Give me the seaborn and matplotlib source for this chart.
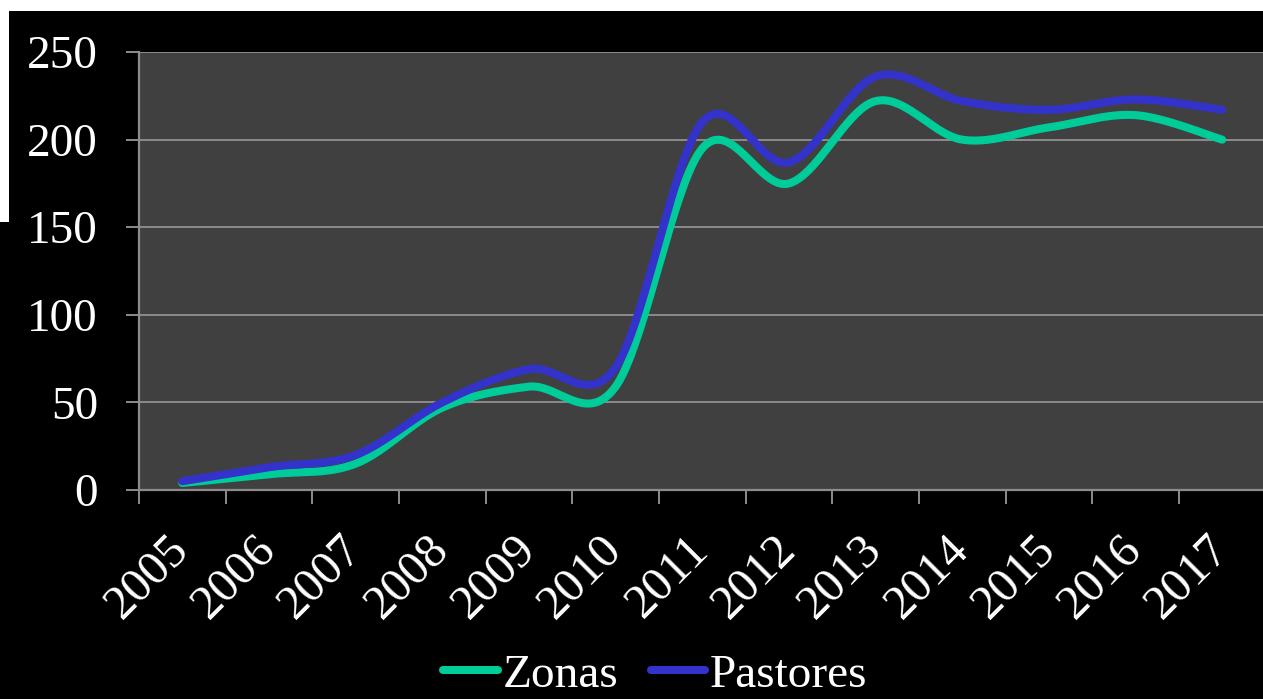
import numpy as np
import pandas as pd
import seaborn as sns
import matplotlib.pyplot as plt
from matplotlib.patches import Rectangle

years = ['2005', '2006', '2007', '2008', '2009', '2010', '2011',
         '2012', '2013', '2014', '2015', '2016', '2017']
zonas = [4, 9, 15, 47, 59, 59, 195, 175, 222, 200, 207, 214, 200]
pastores = [5, 13, 20, 50, 69, 70, 210, 187, 236, 222, 217, 223, 217]

color_dict = {'Zonas': '#00CC99', 'Pastores': '#3333CC'}


def smooth(values, steps=40):
    # bezier smoothing, same idea as the spreadsheet "smoothed line" option
    p = np.asarray(values, dtype=float)
    pts = np.column_stack([np.arange(len(p), dtype=float), p])
    ext = np.vstack([pts[0], pts, pts[-1]])
    t = np.linspace(0, 1, steps)[:, None]
    out = []
    for i in range(len(pts) - 1):
        p0, p3 = ext[i + 1], ext[i + 2]
        c1 = p0 + (ext[i + 2] - ext[i]) / 6
        c2 = p3 - (ext[i + 3] - ext[i + 1]) / 6
        seg = (1 - t) ** 3 * p0 + 3 * (1 - t) ** 2 * t * c1 + 3 * (1 - t) * t ** 2 * c2 + t ** 3 * p3
        out.append(seg if i == 0 else seg[1:])
    return np.vstack(out)


rows = []
for name, vals in [('Zonas', zonas), ('Pastores', pastores)]:
    for x, y in smooth(vals):
        rows.append({'x': x, 'value': y, 'serie': name})
df = pd.DataFrame(rows)

sns.set_theme(style='dark')
plt.rcParams['font.family'] = ['Liberation Serif', 'DejaVu Serif']

fig = plt.figure(figsize=(12.63, 6.99), dpi=100, facecolor='black')
ax = fig.add_axes([0.110, 0.299, 0.892, 0.6265])
ax.set_facecolor('#404040')

sns.lineplot(data=df, x='x', y='value', hue='serie', palette=color_dict,
             linewidth=5.8, sort=False, estimator=None, ax=ax, legend=False)
for line in ax.lines:
    line.set_solid_capstyle('round')

grid_color = '#8c8c8c'
ax.set_ylim(0, 250)
ax.set_yticks(range(0, 251, 50))
ax.set_xlim(-0.5, 12.5)
ax.set_xticks(np.arange(-0.5, 12.6, 1))
ax.set_xticklabels([])
ax.set_xticks(np.arange(len(years)), minor=True)
ax.set_xticklabels(years, minor=True, rotation=45, ha='right', va='center',
                   rotation_mode='anchor')
ax.yaxis.grid(True, color=grid_color, linewidth=1.4)
ax.xaxis.grid(False)
ax.set_axisbelow(True)

for side in ['top', 'right']:
    ax.spines[side].set_visible(False)
for side in ['left', 'bottom']:
    ax.spines[side].set_color(grid_color)
    ax.spines[side].set_linewidth(1.6)

ax.tick_params(axis='y', which='major', colors='white', labelsize=34,
               length=9.5, width=1.4, color=grid_color, pad=20, left=True)
ax.tick_params(axis='x', which='major', length=10, width=1.4, color=grid_color,
               bottom=True)
ax.tick_params(axis='x', which='minor', colors='white', labelsize=35,
               length=0, pad=38, bottom=True)
ax.set_xlabel('')
ax.set_ylabel('')

handles = [plt.Line2D([], [], color=color_dict[k], linewidth=5.8, solid_capstyle='round')
           for k in ['Zonas', 'Pastores']]
fig.legend(handles, ['Zonas', 'Pastores'], loc='center', bbox_to_anchor=(0.519, 0.034),
           ncol=2, frameon=False, fontsize=34, labelcolor='white',
           handlelength=1.15, handletextpad=0.1, columnspacing=0.7)

# white margins left over at the top and left edge of the original capture
fig.add_artist(Rectangle((0, 1 - 11 / 699), 1, 11 / 699, transform=fig.transFigure,
                         facecolor='white', edgecolor='none', zorder=10))
fig.add_artist(Rectangle((0, 1 - 222 / 699), 9 / 1263, 222 / 699, transform=fig.transFigure,
                         facecolor='white', edgecolor='none', zorder=10))

fig.savefig('out.png', dpi=100, facecolor='black')
